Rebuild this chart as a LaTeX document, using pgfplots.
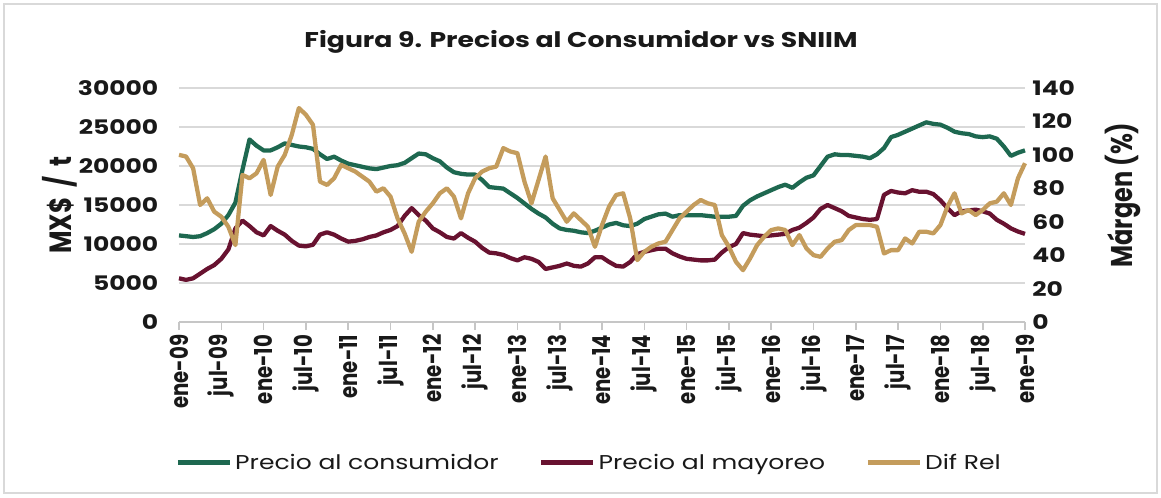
\documentclass[border=0pt]{standalone}
\usepackage{pgfplots}
\usepackage{pgfplotstable}
\pgfplotsset{compat=1.18}
\usepackage{fontspec}
\setmainfont{Poppins}
\newfontfamily\wide[FakeStretch=1.25]{Poppins}
\newfontfamily\tall[FakeStretch=0.8]{Poppins}
\definecolor{cgreen}{RGB}{30,104,80}
\definecolor{cmaroon}{RGB}{104,18,48}
\definecolor{ctan}{RGB}{196,156,92}
\definecolor{cgrid}{RGB}{217,217,217}
\definecolor{ctext}{RGB}{25,25,25}
\pgfplotstableread{
i green maroon tan
0 11100 5600 100
1 11000 5400 99
2 10900 5600 92
3 11000 6200 70
4 11400 6800 74
5 11900 7300 66
6 12600 8100 63
7 13700 9300 57
8 15300 12000 46
9 19500 13000 88
10 23400 12300 86
11 22600 11500 89
12 22000 11100 97
13 22000 12300 76
14 22400 11700 93
15 22900 11200 100
16 22700 10400 112
17 22500 9800 128
18 22400 9700 124
19 22200 9900 118
20 21500 11200 84
21 20900 11500 82
22 21200 11200 86
23 20700 10700 94
24 20300 10300 92
25 20100 10400 90
26 19900 10600 87
27 19700 10900 84
28 19600 11100 78
29 19800 11500 80
30 20000 11800 75
31 20100 12300 62
32 20400 13600 53
33 21000 14600 42
34 21600 13700 60
35 21500 13000 66
36 21000 12000 71
37 20600 11500 77
38 19800 10900 80
39 19200 10700 75
40 19000 11400 62
41 18900 10800 77
42 18900 10300 86
43 18200 9500 90
44 17300 8900 92
45 17200 8800 93
46 17100 8600 104
47 16500 8200 102
48 15900 7900 101
49 15200 8300 84
50 14500 8100 71
51 13900 7700 85
52 13400 6800 99
53 12600 7000 74
54 12000 7200 67
55 11800 7500 60
56 11700 7200 65
57 11500 7100 61
58 11400 7500 57
59 11700 8300 45
60 12100 8300 58
61 12500 7700 69
62 12700 7200 76
63 12400 7100 77
64 12300 7700 62
65 12600 8700 37
66 13200 9000 42
67 13500 9200 45
68 13800 9400 47
69 13900 9400 48
70 13500 8800 55
71 13700 8400 62
72 13700 8100 66
73 13700 8000 70
74 13700 7900 73
75 13600 7900 71
76 13500 8000 70
77 13500 8900 52
78 13500 9600 45
79 13600 10000 36
80 14900 11400 31
81 15600 11200 38
82 16100 11100 46
83 16500 11000 51
84 16900 11100 55
85 17300 11200 56
86 17600 11300 55
87 17200 11800 46
88 17900 12100 52
89 18500 12700 44
90 18800 13400 40
91 20000 14500 39
92 21200 15000 44
93 21500 14600 48
94 21400 14200 49
95 21400 13600 55
96 21300 13400 58
97 21200 13200 58
98 21000 13100 58
99 21500 13200 57
100 22300 16300 41
101 23700 16800 43
102 24000 16600 43
103 24400 16500 50
104 24800 16900 47
105 25200 16700 54
106 25600 16700 54
107 25400 16400 53
108 25300 15600 58
109 24900 14600 69
110 24400 13700 77
111 24200 14200 65
112 24100 14300 67
113 23800 14400 64
114 23700 14200 67
115 23800 13900 71
116 23500 13100 72
117 22500 12600 77
118 21300 12000 70
119 21700 11600 86
120 22000 11300 95
}\datatable
\pgfplotsset{
  common/.style={
    at={(134.25pt,131.25pt)}, anchor=south west,
    scale only axis, width=634.5pt, height=175.5pt,
    xmin=0, xmax=120,
    clip=false,
    /pgf/number format/assume math mode=true,
    /pgf/number format/1000 sep={},
    scaled y ticks=false,
    yticklabel style={text=ctext, font=\wide\bfseries\fontsize{15}{18}\selectfont},
    xticklabel style={text=ctext, font=\tall\bfseries\fontsize{18.5}{22}\selectfont},
    ytick style={draw=none},
  }
}
\begin{document}
\begin{tikzpicture}[x=0.75pt,y=0.75pt]
\useasboundingbox (0,0) rectangle (1161,497);
\draw[gray!30, line width=1pt] (4,4) rectangle (1157,493);
\node[font=\wide\bfseries\fontsize{16}{19}\selectfont, text=ctext] at (581,455) {Figura 9. Precios al Consumidor vs SNIIM};
\node[rotate=90, font=\tall\bfseries\fontsize{23}{26}\selectfont, text=ctext] at (60,292) {MX\$\hspace{0.33em}/\hspace{0.33em}t};
\node[rotate=90, font=\tall\bfseries\fontsize{22.5}{26}\selectfont, text=ctext] at (1123,302) {Márgen (\%)};
\begin{axis}[common,
  ymin=0, ymax=30000, ytick={0,5000,...,30000},
  axis x line*=bottom, axis y line*=left,
  y axis line style={draw=none},
  x axis line style={draw=gray!45, line width=1.2pt},
  xtick={0,6,...,120},
  xticklabels={ene-09,jul-09,ene-10,jul-10,ene-11,jul-11,ene-12,jul-12,ene-13,jul-13,ene-14,jul-14,ene-15,jul-15,ene-16,jul-16,ene-17,jul-17,ene-18,jul-18,ene-19},
  xticklabel style={rotate=90, anchor=east},
  x tick style={draw=gray!45, line width=1.2pt},
  major tick length=6pt, tick align=outside,
  ymajorgrids, grid style={draw=cgrid, line width=1.5pt},
  yticklabel style={xshift=-6pt},
]
\addplot[cgreen, line width=3.2pt, line join=round] table[x=i, y=green] {\datatable};
\addplot[cmaroon, line width=3.2pt, line join=round] table[x=i, y=maroon] {\datatable};
\end{axis}
\begin{axis}[common,
  ymin=0, ymax=140, ytick={0,20,...,140},
  axis x line=none, axis y line*=right,
  y axis line style={draw=none},
  yticklabel style={xshift=2pt},
  legend style={at={(0.485,-0.6)}, anchor=center, legend columns=3, draw=none, fill=none,
    font=\wide\fontsize{15}{18}\selectfont, text=ctext,
    /tikz/every even column/.append style={column sep=28pt}},
  legend image code/.code={\draw[#1, line width=4pt] (0pt,0pt) -- (39pt,0pt);},
]
\addlegendimage{cgreen}
\addlegendentry{Precio al consumidor}
\addlegendimage{cmaroon}
\addlegendentry{Precio al mayoreo}
\addplot[ctan, line width=3.2pt, line join=round] table[x=i, y=tan] {\datatable};
\addlegendentry{Dif Rel}
\end{axis}
\end{tikzpicture}
\end{document}
